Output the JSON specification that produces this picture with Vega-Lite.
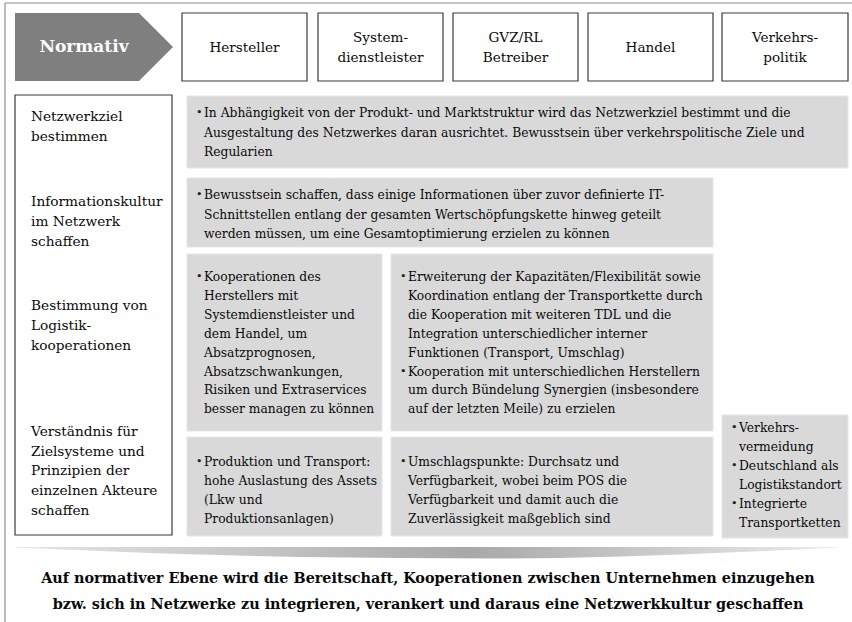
{
  "$schema": "https://vega.github.io/schema/vega-lite/v6.json",
  "width": 852,
  "height": 622,
  "padding": 0,
  "autosize": {"type": "none"},
  "background": "white",
  "config": {"view": {"stroke": null}, "text": {"font": "DejaVu Serif"}},
  "datasets": {
    "frame": [
      {"x": 5, "x2": 852, "y": 3, "y2": 3},
      {"x": 5, "x2": 5, "y": 3, "y2": 622}
    ],
    "arrow": [
      {"x": 15, "y": 13, "y2": 81},
      {"x": 139, "y": 13, "y2": 81},
      {"x": 173, "y": 47, "y2": 47}
    ],
    "band": [
      {"x": 15, "y": 547, "y2": 547.5},
      {"x": 50, "y": 547, "y2": 549},
      {"x": 100, "y": 547, "y2": 551},
      {"x": 150, "y": 547, "y2": 553},
      {"x": 200, "y": 547, "y2": 554.5},
      {"x": 300, "y": 547, "y2": 557},
      {"x": 400, "y": 547, "y2": 558},
      {"x": 500, "y": 547, "y2": 558.5},
      {"x": 560, "y": 547, "y2": 558},
      {"x": 620, "y": 547, "y2": 556.5},
      {"x": 680, "y": 547, "y2": 554.5},
      {"x": 740, "y": 547, "y2": 552},
      {"x": 790, "y": 547, "y2": 550},
      {"x": 838, "y": 547, "y2": 547.5}
    ],
    "outlined": [
      {"x": 182, "x2": 307, "y": 13, "y2": 81},
      {"x": 318, "x2": 443, "y": 13, "y2": 81},
      {"x": 453, "x2": 578, "y": 13, "y2": 81},
      {"x": 588, "x2": 713, "y": 13, "y2": 81},
      {"x": 722, "x2": 848, "y": 13, "y2": 81},
      {"x": 15, "x2": 172, "y": 95, "y2": 535}
    ],
    "grayboxes": [
      {"x": 187, "x2": 848, "y": 96, "y2": 168},
      {"x": 187, "x2": 713, "y": 178, "y2": 247},
      {"x": 187, "x2": 382, "y": 254, "y2": 431},
      {"x": 391, "x2": 713, "y": 254, "y2": 431},
      {"x": 187, "x2": 382, "y": 437, "y2": 536},
      {"x": 391, "x2": 713, "y": 437, "y2": 536},
      {"x": 722, "x2": 848, "y": 415, "y2": 538}
    ],
    "headers": [
      {"x": 244.5, "y": 48, "t": "Hersteller"},
      {"x": 380.5, "y": 38, "t": "System-"},
      {"x": 380.5, "y": 58, "t": "dienstleister"},
      {"x": 515.5, "y": 38, "t": "GVZ/RL"},
      {"x": 515.5, "y": 58, "t": "Betreiber"},
      {"x": 650.5, "y": 48, "t": "Handel"},
      {"x": 785, "y": 38, "t": "Verkehrs-"},
      {"x": 785, "y": 58, "t": "politik"}
    ],
    "title": [
      {"x": 84, "y": 47, "t": "Normativ"}
    ],
    "labels": [
      {"x": 31, "y": 117, "t": "Netzwerkziel"},
      {"x": 31, "y": 137, "t": "bestimmen"},
      {"x": 31, "y": 202, "t": "Informationskultur"},
      {"x": 31, "y": 222, "t": "im Netzwerk"},
      {"x": 31, "y": 242, "t": "schaffen"},
      {"x": 31, "y": 306, "t": "Bestimmung von"},
      {"x": 31, "y": 326, "t": "Logistik-"},
      {"x": 31, "y": 346, "t": "kooperationen"},
      {"x": 31, "y": 432, "t": "Verständnis für"},
      {"x": 31, "y": 452, "t": "Zielsysteme und"},
      {"x": 31, "y": 471, "t": "Prinzipien der"},
      {"x": 31, "y": 491, "t": "einzelnen Akteure"},
      {"x": 31, "y": 511, "t": "schaffen"}
    ],
    "bullets": [
      {"x": 196, "y": 113},
      {"x": 196, "y": 195},
      {"x": 196, "y": 277},
      {"x": 400, "y": 277},
      {"x": 400, "y": 371.5},
      {"x": 196, "y": 462},
      {"x": 400, "y": 462},
      {"x": 731, "y": 428},
      {"x": 731, "y": 466},
      {"x": 731, "y": 504}
    ],
    "body": [
      {"x": 204, "y": 113, "t": "In Abhängigkeit von der Produkt- und Marktstruktur wird das Netzwerkziel bestimmt und die"},
      {"x": 204, "y": 132.5, "t": "Ausgestaltung des Netzwerkes daran ausrichtet. Bewusstsein über verkehrspolitische Ziele und"},
      {"x": 204, "y": 152, "t": "Regularien"},
      {"x": 204, "y": 195, "t": "Bewusstsein schaffen, dass einige Informationen über zuvor definierte IT-"},
      {"x": 204, "y": 214.5, "t": "Schnittstellen entlang der gesamten Wertschöpfungskette hinweg geteilt"},
      {"x": 204, "y": 234, "t": "werden müssen, um eine Gesamtoptimierung erzielen zu können"},
      {"x": 204, "y": 277, "t": "Kooperationen des"},
      {"x": 204, "y": 296, "t": "Herstellers mit"},
      {"x": 204, "y": 314.8, "t": "Systemdienstleister und"},
      {"x": 204, "y": 333.7, "t": "dem Handel, um"},
      {"x": 204, "y": 352.6, "t": "Absatzprognosen,"},
      {"x": 204, "y": 371.5, "t": "Absatzschwankungen,"},
      {"x": 204, "y": 390.4, "t": "Risiken und Extraservices"},
      {"x": 204, "y": 409.3, "t": "besser managen zu können"},
      {"x": 408, "y": 277, "t": "Erweiterung der Kapazitäten/Flexibilität sowie"},
      {"x": 408, "y": 296, "t": "Koordination entlang der Transportkette durch"},
      {"x": 408, "y": 314.8, "t": "die Kooperation mit weiteren TDL und die"},
      {"x": 408, "y": 333.7, "t": "Integration unterschiedlicher interner"},
      {"x": 408, "y": 352.6, "t": "Funktionen (Transport, Umschlag)"},
      {"x": 408, "y": 371.5, "t": "Kooperation mit unterschiedlichen Herstellern"},
      {"x": 408, "y": 390.4, "t": "um durch Bündelung Synergien (insbesondere"},
      {"x": 408, "y": 409.3, "t": "auf der letzten Meile) zu erzielen"},
      {"x": 204, "y": 462, "t": "Produktion und Transport:"},
      {"x": 204, "y": 481, "t": "hohe Auslastung des Assets"},
      {"x": 204, "y": 500, "t": "(Lkw und"},
      {"x": 204, "y": 519, "t": "Produktionsanlagen)"},
      {"x": 408, "y": 462, "t": "Umschlagspunkte: Durchsatz und"},
      {"x": 408, "y": 481, "t": "Verfügbarkeit, wobei beim POS die"},
      {"x": 408, "y": 500, "t": "Verfügbarkeit und damit auch die"},
      {"x": 408, "y": 519, "t": "Zuverlässigkeit maßgeblich sind"},
      {"x": 739, "y": 428, "t": "Verkehrs-"},
      {"x": 739, "y": 447, "t": "vermeidung"},
      {"x": 739, "y": 466, "t": "Deutschland als"},
      {"x": 739, "y": 485, "t": "Logistikstandort"},
      {"x": 739, "y": 504, "t": "Integrierte"},
      {"x": 739, "y": 523, "t": "Transportketten"}
    ],
    "bottom": [
      {"x": 428, "y": 579, "t": "Auf normativer Ebene wird die Bereitschaft, Kooperationen zwischen Unternehmen einzugehen"},
      {"x": 428, "y": 605, "t": "bzw. sich in Netzwerke zu integrieren, verankert und daraus eine Netzwerkkultur geschaffen"}
    ]
  },
  "encoding": {
    "x": {"field": "x", "type": "quantitative", "scale": {"domain": [0, 852], "nice": false, "zero": false}, "axis": null},
    "y": {"field": "y", "type": "quantitative", "scale": {"domain": [0, 622], "reverse": true, "nice": false, "zero": false}, "axis": null}
  },
  "layer": [
    {
      "data": {"name": "frame"},
      "mark": {"type": "rule", "color": "#8c8c8c", "strokeWidth": 1.2},
      "encoding": {"x2": {"field": "x2"}, "y2": {"field": "y2"}}
    },
    {
      "data": {"name": "arrow"},
      "mark": {"type": "area", "orient": "vertical", "color": "#7f7f7f", "interpolate": "linear"},
      "encoding": {"y2": {"field": "y2"}}
    },
    {
      "data": {"name": "outlined"},
      "mark": {"type": "rect", "fill": "white", "stroke": "#3a3a3a", "strokeWidth": 1.2},
      "encoding": {"x2": {"field": "x2"}, "y2": {"field": "y2"}}
    },
    {
      "data": {"name": "grayboxes"},
      "mark": {"type": "rect", "fill": "#d9d9d9", "stroke": "#e6e6e6", "strokeWidth": 1},
      "encoding": {"x2": {"field": "x2"}, "y2": {"field": "y2"}}
    },
    {
      "data": {"name": "band"},
      "mark": {
        "type": "area",
        "orient": "vertical",
        "interpolate": "monotone",
        "color": {
          "gradient": "linear",
          "x1": 0, "y1": 0, "x2": 1, "y2": 0,
          "stops": [
            {"offset": 0, "color": "#e6e6e6"},
            {"offset": 0.55, "color": "#a8a8a8"},
            {"offset": 1, "color": "#ececec"}
          ]
        }
      },
      "encoding": {"y2": {"field": "y2"}}
    },
    {
      "data": {"name": "title"},
      "mark": {"type": "text", "fontSize": 17, "fontWeight": "bold", "color": "white", "align": "center", "baseline": "middle"},
      "encoding": {"text": {"field": "t"}}
    },
    {
      "data": {"name": "headers"},
      "mark": {"type": "text", "fontSize": 13.6, "color": "#0a0a0a", "align": "center", "baseline": "middle"},
      "encoding": {"text": {"field": "t"}}
    },
    {
      "data": {"name": "labels"},
      "mark": {"type": "text", "fontSize": 13.7, "color": "#0a0a0a", "align": "left", "baseline": "middle"},
      "encoding": {"text": {"field": "t"}}
    },
    {
      "data": {"name": "bullets"},
      "mark": {"type": "text", "fontSize": 11, "color": "#222222", "align": "left", "baseline": "middle", "text": "•"},
      "encoding": {}
    },
    {
      "data": {"name": "body"},
      "mark": {"type": "text", "fontSize": 12.3, "color": "#0a0a0a", "align": "left", "baseline": "middle"},
      "encoding": {"text": {"field": "t"}}
    },
    {
      "data": {"name": "bottom"},
      "mark": {"type": "text", "fontSize": 14.4, "fontWeight": "bold", "color": "#0a0a0a", "align": "center", "baseline": "middle"},
      "encoding": {"text": {"field": "t"}}
    }
  ]
}
